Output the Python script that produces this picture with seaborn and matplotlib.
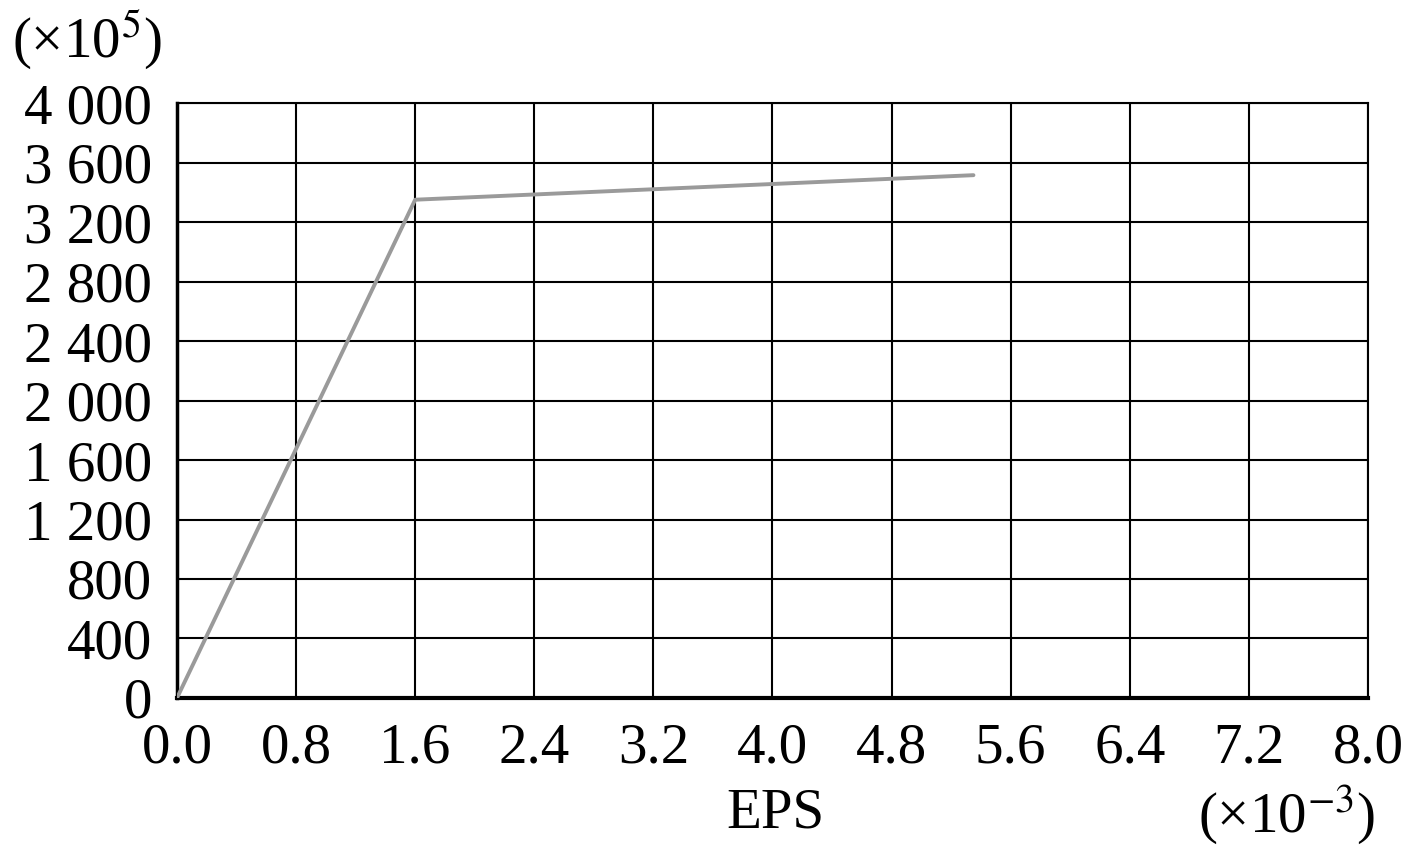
import matplotlib
matplotlib.use('Agg')
import matplotlib.pyplot as plt
import numpy as np
import pandas as pd
import seaborn as sns

# data
eps = [0.0, 1.6, 5.35]
force = [0, 3350, 3515]
x_ticks = [0.0, 0.8, 1.6, 2.4, 3.2, 4.0, 4.8, 5.6, 6.4, 7.2, 8.0]
y_ticks = [0, 400, 800, 1200, 1600, 2000, 2400, 2800, 3200, 3600, 4000]
y_tick_labels = ['0', '400', '800', '1 200', '1 600', '2 000', '2 400',
                 '2 800', '3 200', '3 600', '4 000']

df = pd.DataFrame({'EPS': eps, 'F': force})

sns.set_theme(style='white')
plt.rcParams['font.family'] = ['Liberation Serif', 'DejaVu Serif']
plt.rcParams['mathtext.fontset'] = 'stix'
plt.rcParams['text.color'] = 'black'

fig = plt.figure(figsize=(14.17, 8.48), dpi=100)
ax = fig.add_axes([0.1249, 0.1769, 0.9654 - 0.1249, 0.8785 - 0.1769])

ax.grid(True, color='black', linewidth=1.5)
ax.set_axisbelow(True)
sns.lineplot(data=df, x='EPS', y='F', ax=ax, color='#9a9a9a', linewidth=2.8,
             zorder=3)

ax.set_xlim(0, 8.0)
ax.set_ylim(0, 4000)
ax.set_xticks(x_ticks)
ax.set_xticklabels([f'{v:.1f}' for v in x_ticks])
ax.set_yticks(y_ticks)
ax.set_yticklabels(y_tick_labels)
ax.tick_params(axis='both', length=0, labelsize=41, colors='black')
ax.tick_params(axis='x', pad=18)
ax.tick_params(axis='y', pad=18)

for side in ['top', 'right']:
    ax.spines[side].set_color('black')
    ax.spines[side].set_linewidth(1.5)
ax.spines['left'].set_color('black')
ax.spines['left'].set_linewidth(2.5)
ax.spines['bottom'].set_color('black')
ax.spines['bottom'].set_linewidth(3)

ax.set_xlabel('')
ax.set_ylabel('')
fig.text(775 / 1417, 1 - 813 / 848, 'EPS', fontsize=41, ha='center', va='center')
fig.text(12 / 1417, 1 - 40 / 848, r'(×10$^{5}$)', fontsize=41, ha='left', va='center')
fig.text(1375 / 1417, 1 - 815 / 848, r'(×10$^{−3}$)', fontsize=41, ha='right', va='center')

fig.savefig('out.png', dpi=100)
